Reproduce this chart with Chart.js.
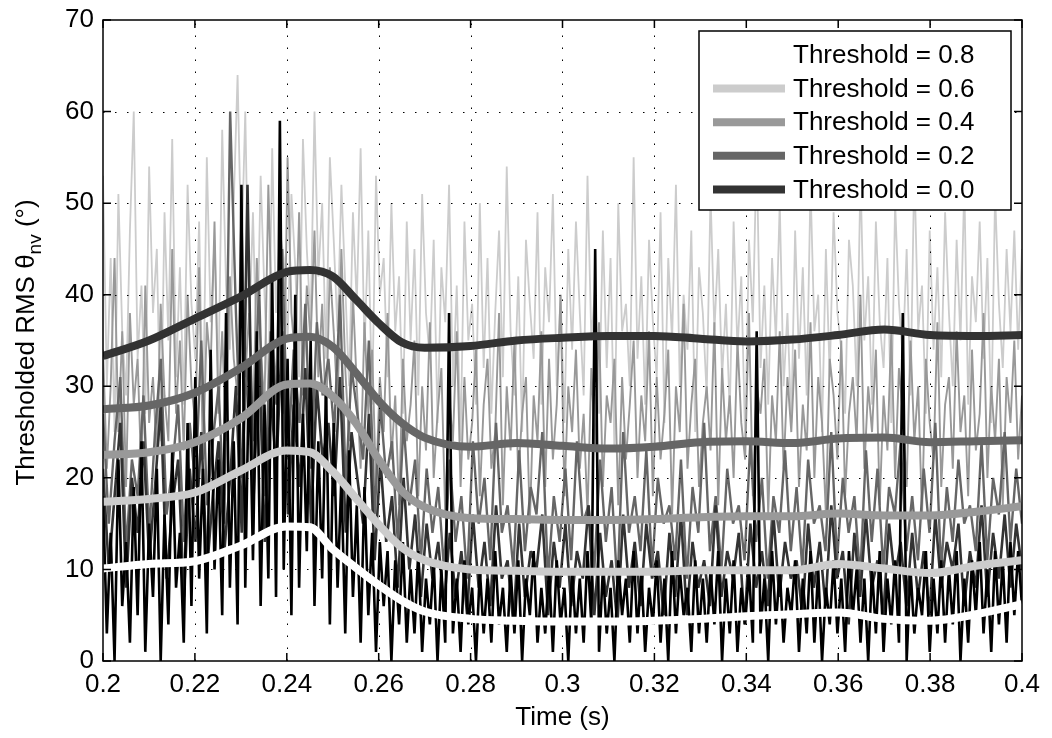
<!DOCTYPE html>
<html>
<head>
<meta charset="utf-8">
<script src="https://cdn.jsdelivr.net/npm/chart.js@4"></script>
<style>
  html, body { margin: 0; padding: 0; background: #fff; }
</style>
</head>
<body>
<canvas id="rmsChart" width="1052" height="738"></canvas>
<script>
// thresholds, as listed in the legend
const thresholds = ['0.8', '0.6', '0.4', '0.2', '0.0'];
const smoothColors = ['#ffffff', '#cccccc', '#999999', '#666666', '#333333'];
const rawColors = ['#000000', '#333333', '#666666', '#999999', '#cccccc'];

const xTicks = [0.2, 0.22, 0.24, 0.26, 0.28, 0.3, 0.32, 0.34, 0.36, 0.38, 0.4];
const yTicks = [0, 10, 20, 30, 40, 50, 60, 70];

// smoothed RMS curves
const smoothTimes = [0.200, 0.210, 0.220, 0.230, 0.240, 0.245, 0.250, 0.255, 0.260, 0.265, 0.270, 0.280,
  0.290, 0.300, 0.310, 0.320, 0.330, 0.340, 0.350, 0.360, 0.370, 0.380, 0.390, 0.400];
const smooth08 = [10.1, 10.6, 10.9, 12.6, 14.7, 14.6, 12.2, 10.2, 8.3, 6.6, 5.4, 4.6, 4.4, 4.3, 4.3, 4.4, 4.6, 4.9, 5.1, 5.3, 4.6, 4.4, 5.1, 6.2];
const smooth06 = [17.4, 17.7, 18.4, 20.8, 23.0, 22.8, 20.7, 17.8, 14.9, 12.4, 11.0, 10.0, 9.85, 9.75, 9.75, 9.75, 9.9, 9.9, 9.9, 10.6, 10.1, 9.6, 10.4, 11.0];
const smooth04 = [22.5, 22.8, 23.9, 26.5, 30.2, 30.3, 28.9, 26.0, 22.0, 18.6, 16.8, 15.6, 15.5, 15.4, 15.4, 15.5, 15.7, 15.8, 15.8, 16.1, 15.9, 15.9, 16.3, 16.9];
const smooth02 = [27.5, 27.9, 29.3, 32.0, 35.2, 35.4, 34.3, 31.5, 28.4, 26.0, 24.4, 23.4, 23.8, 23.5, 23.2, 23.4, 23.9, 24.0, 23.8, 24.3, 24.4, 23.9, 24.0, 24.1];
const smooth00 = [33.3, 35.0, 37.4, 39.8, 42.5, 42.7, 42.0, 39.5, 36.9, 34.8, 34.2, 34.4, 35.0, 35.3, 35.5, 35.5, 35.2, 34.9, 35.1, 35.6, 36.2, 35.6, 35.5, 35.6];

// raw thresholded signal, evenly sampled from 0.2 s to 0.4 s
const raw00 = [
  53, 30, 44, 25, 51, 36, 29, 47, 60, 33, 41, 27, 54, 38, 45, 24, 49, 35, 57, 31,
  43, 28, 52, 39, 33, 48, 26, 55, 37, 46, 30, 58, 41, 34, 50, 64, 44, 60, 36, 49,
  32, 53, 40, 29, 56, 38, 47, 44, 35, 51, 43, 31, 57, 45, 37, 60, 42, 50, 33, 55,
  46, 36, 52, 41, 30, 49, 39, 56, 34, 47, 28, 53, 40, 44, 31, 50, 36, 42, 27, 48,
  35, 45, 29, 51, 38, 33, 46, 26, 43, 37, 52, 30, 41, 24, 48, 35, 39, 28, 50, 32,
  44, 27, 38, 47, 31, 54, 36, 29, 42, 25, 46, 39, 33, 49, 28, 43, 37, 51, 30, 40,
  26, 45, 34, 48, 38, 29, 53, 35, 41, 27, 47, 32, 44, 23, 50, 36, 39, 30, 55, 33,
  42, 28, 46, 37, 31, 49, 26, 44, 35, 52, 30, 40, 34, 47, 25, 43, 38, 29, 51, 36,
  45, 31, 39, 27, 48, 34, 42, 24, 46, 37, 56, 32, 41, 28, 44, 35, 50, 30, 38, 26,
  47, 33, 43, 29, 52, 36, 40, 25, 45, 31, 49, 38, 34, 27, 46, 41, 30, 53, 35, 42,
  28, 48, 37, 32, 44, 26, 50, 39, 33, 45, 29, 54, 36, 41, 27, 47, 34, 43, 31, 49,
  38, 30, 46, 35, 52, 28, 42, 37, 48, 33, 44, 26, 51, 39, 32, 45, 36, 47, 34, 45];
const raw02 = [
  34, 21, 30, 44, 25, 36, 19, 38, 28, 33, 20, 41, 26, 31, 22, 39, 29, 24, 45, 27,
  35, 23, 40, 30, 26, 43, 22, 37, 32, 48, 27, 36, 24, 42, 33, 29, 50, 31, 38, 25,
  44, 34, 28, 52, 36, 30, 46, 27, 55, 38, 33, 49, 29, 41, 35, 47, 31, 39, 26, 43,
  36, 28, 45, 32, 24, 40, 30, 21, 37, 27, 34, 19, 31, 25, 38, 22, 29, 17, 33, 24,
  28, 35, 18, 30, 23, 37, 20, 27, 32, 16, 29, 24, 36, 19, 31, 22, 26, 34, 18, 28,
  33, 21, 25, 38, 17, 30, 23, 35, 20, 27, 31, 15, 29, 24, 36, 19, 33, 22, 28, 40,
  18, 30, 25, 34, 21, 27, 16, 32, 23, 37, 19, 29, 26, 33, 17, 31, 22, 28, 35, 20,
  29, 24, 36, 18, 31, 22, 27, 34, 16, 30, 25, 39, 21, 28, 33, 19, 26, 30, 23, 37,
  17, 32, 24, 29, 20, 35, 26, 22, 38, 18, 30, 27, 33, 16, 29, 24, 36, 21, 31, 25,
  34, 19, 28, 23, 37, 20, 31, 26, 16, 33, 29, 22, 35, 18, 27, 31, 24, 40, 21, 30,
  25, 34, 17, 29, 23, 36, 20, 32, 27, 19, 35, 24, 30, 16, 33, 26, 22, 37, 19, 28,
  31, 21, 36, 25, 29, 18, 34, 23, 27, 38, 20, 30, 24, 33, 17, 31, 26, 35, 22, 29];
const raw04 = [
  27, 15, 24, 31, 12, 22, 18, 29, 14, 25, 33, 16, 21, 28, 13, 26, 19, 35, 17, 24,
  30, 15, 60, 38, 20, 33, 24, 41, 18, 36, 28, 45, 22, 34, 26, 39, 21, 37, 29, 33,
  25, 40, 19, 32, 27, 22, 35, 16, 28, 20, 24, 13, 26, 17, 22, 11, 21, 14, 19, 10,
  22, 13, 18, 9, 24, 15, 20, 11, 26, 14, 17, 10, 23, 12, 19, 16, 25, 9, 18, 13,
  21, 11, 24, 15, 17, 10, 22, 13, 19, 8, 25, 14, 18, 12, 23, 10, 20, 15, 17, 11,
  22, 9, 19, 14, 26, 12, 18, 10, 21, 15, 17, 11, 24, 13, 20, 9, 18, 14, 23, 12,
  19, 10, 22, 15, 17, 12, 25, 11, 20, 14, 18, 9, 23, 13, 21, 10, 19, 16, 24, 12,
  18, 11, 21, 14, 26, 10, 19, 13, 22, 15, 17, 12, 24, 11, 20, 16, 25, 13, 21, 15];
const raw06 = [
  21, 10, 18, 26, 8, 20, 14, 24, 11, 19, 28, 9, 17, 22, 7, 21, 13, 25, 10, 18,
  24, 12, 20, 30, 14, 52, 17, 33, 13, 29, 21, 36, 16, 28, 19, 32, 15, 30, 22, 26,
  18, 31, 14, 25, 20, 15, 27, 11, 22, 13, 18, 8, 20, 10, 16, 7, 15, 9, 13, 6,
  14, 7, 12, 5, 16, 8, 13, 6, 17, 9, 11, 4, 15, 7, 12, 10, 16, 5, 13, 8,
  15, 6, 12, 9, 17, 5, 14, 7, 11, 4, 16, 8, 13, 6, 15, 9, 12, 5, 14, 7,
  16, 5, 13, 8, 11, 6, 17, 7, 12, 9, 14, 4, 15, 8, 12, 6, 16, 7, 13, 9,
  11, 5, 15, 8, 13, 6, 17, 9, 12, 4, 14, 7, 16, 8, 11, 5, 15, 9, 13, 6,
  14, 7, 12, 5, 16, 8, 13, 10, 15, 6, 12, 8, 17, 7, 14, 9, 16, 8, 15, 10];
const raw08 = [
  18, 3, 14, 0, 22, 6, 13, 2, 19, 5, 24, 1, 15, 7, 21, 0, 16, 4, 23, 8,
  14, 2, 26, 6, 31, 9, 21, 3, 34, 10, 22, 5, 38, 8, 24, 4, 52, 8, 33, 11,
  36, 6, 28, 9, 42, 7, 59, 10, 33, 5, 40, 8, 27, 12, 35, 6, 24, 9, 30, 4,
  26, 8, 20, 3, 23, 7, 17, 2, 19, 5, 14, 1, 13, 6, 12, 0, 11, 4, 13, 2,
  10, 3, 12, 1, 9, 4, 11, 0, 10, 2, 38, 3, 9, 1, 11, 4, 8, 0, 10, 3,
  9, 2, 12, 4, 8, 1, 10, 3, 11, 0, 9, 5, 12, 2, 8, 3, 10, 1, 11, 4,
  8, 0, 10, 3, 9, 2, 12, 4, 45, 1, 10, 3, 8, 0, 11, 5, 9, 2, 12, 3,
  10, 1, 8, 4, 11, 2, 9, 0, 12, 3, 10, 5, 8, 1, 11, 3, 9, 2, 10, 4,
  12, 0, 9, 3, 11, 1, 8, 4, 10, 2, 36, 3, 9, 0, 12, 4, 10, 2, 8, 5,
  11, 1, 9, 3, 12, 2, 10, 0, 8, 4, 11, 3, 9, 1, 12, 5, 10, 2, 9, 0,
  10, 3, 12, 1, 9, 4, 11, 2, 38, 0, 10, 3, 8, 5, 12, 1, 9, 3, 11, 2,
  10, 4, 12, 0, 9, 2, 11, 5, 13, 3, 10, 1, 12, 4, 11, 2, 13, 5, 12, 6];

const smoothSeries = [smooth08, smooth06, smooth04, smooth02, smooth00];
const rawSeries = [raw08, raw06, raw04, raw02, raw00];
const rawWidths = [2.6, 2.6, 2.4, 1.9, 1.8];

const FONT = '"Liberation Sans", Arial, Helvetica, sans-serif';

function rawPoints(values) {
  // samples are evenly spaced over the time window
  const n = values.length;
  return values.map((v, i) => ({ x: 0.2 + i * 0.2 / (n - 1), y: v }));
}

function smoothPoints(values) {
  return values.map((v, i) => ({ x: smoothTimes[i], y: v }));
}

const datasets = [];
// thick smoothed curves first so they sit on top
smoothSeries.forEach((vals, k) => {
  datasets.push({
    label: 'Threshold = ' + thresholds[k],
    data: smoothPoints(vals),
    borderColor: smoothColors[k],
    borderWidth: 8,
    pointRadius: 0,
    cubicInterpolationMode: 'monotone',
    order: 1 + k,
    isSmooth: true
  });
});
// raw traces: threshold 0.0 (light) at the bottom, 0.8 (black) above them
rawSeries.forEach((vals, k) => {
  datasets.push({
    label: 'raw ' + thresholds[k],
    data: rawPoints(vals),
    borderColor: rawColors[k],
    borderWidth: rawWidths[k],
    borderJoinStyle: 'bevel',
    pointRadius: 0,
    tension: 0,
    order: 6 + k,
    gridAfter: k === 0
  });
});

const matlabAxes = {
  id: 'matlabAxes',
  afterDatasetDraw(chart, args) {
    if (!chart.data.datasets[args.index].gridAfter) return;
    const { ctx, chartArea: a, scales: { x, y } } = chart;
    ctx.save();
    ctx.strokeStyle = '#000';
    ctx.lineWidth = 1;
    ctx.setLineDash([1.5, 10.5]);
    xTicks.slice(1, -1).forEach(t => {
      const px = Math.round(x.getPixelForValue(t)) + 0.5;
      ctx.beginPath(); ctx.moveTo(px, a.bottom); ctx.lineTo(px, a.top); ctx.stroke();
    });
    yTicks.slice(1, -1).forEach(t => {
      const py = Math.round(y.getPixelForValue(t)) + 0.5;
      ctx.beginPath(); ctx.moveTo(a.left, py); ctx.lineTo(a.right, py); ctx.stroke();
    });
    ctx.restore();
  },
  afterDraw(chart) {
    const { ctx, chartArea: a, scales: { x, y } } = chart;
    ctx.save();
    // box and inward ticks
    ctx.strokeStyle = '#000';
    ctx.lineWidth = 1.5;
    ctx.strokeRect(a.left, a.top, a.right - a.left, a.bottom - a.top);
    const tl = 8;
    ctx.beginPath();
    xTicks.forEach(t => {
      const px = x.getPixelForValue(t);
      ctx.moveTo(px, a.bottom); ctx.lineTo(px, a.bottom - tl);
      ctx.moveTo(px, a.top); ctx.lineTo(px, a.top + tl);
    });
    yTicks.forEach(t => {
      const py = y.getPixelForValue(t);
      ctx.moveTo(a.left, py); ctx.lineTo(a.left + tl, py);
      ctx.moveTo(a.right, py); ctx.lineTo(a.right - tl, py);
    });
    ctx.stroke();

    // legend
    const lx = a.right - 323, ly = a.top + 11, lw = 312, lh = 179;
    ctx.fillStyle = '#fff';
    ctx.fillRect(lx, ly, lw, lh);
    ctx.lineWidth = 1.5;
    ctx.strokeRect(lx, ly, lw, lh);
    ctx.font = '26px ' + FONT;
    ctx.textAlign = 'left';
    ctx.textBaseline = 'middle';
    chart.data.datasets.filter(d => d.isSmooth).forEach((d, i) => {
      const ry = ly + 24 + i * 33.6;
      ctx.strokeStyle = d.borderColor;
      ctx.lineWidth = 8;
      ctx.beginPath(); ctx.moveTo(lx + 14, ry); ctx.lineTo(lx + 86, ry); ctx.stroke();
      ctx.fillStyle = '#000';
      ctx.fillText(d.label, lx + 94, ry + 1);
    });

    // axis titles
    ctx.fillStyle = '#000';
    ctx.textAlign = 'center';
    ctx.fillText('Time (s)', (a.left + a.right) / 2, 718);

    const main = 'Thresholded RMS \u03b8', sub = 'nv', tail = ' (\u00b0)';
    ctx.font = '26px ' + FONT;
    const w1 = ctx.measureText(main).width;
    const w3 = ctx.measureText(tail).width;
    ctx.font = '19px ' + FONT;
    const w2 = ctx.measureText(sub).width;
    ctx.translate(34, (a.top + a.bottom) / 2 + 2);
    ctx.rotate(-Math.PI / 2);
    ctx.textAlign = 'left';
    ctx.textBaseline = 'alphabetic';
    let sx = -(w1 + w2 + w3) / 2;
    ctx.font = '26px ' + FONT;
    ctx.fillText(main, sx, 0);
    sx += w1;
    ctx.font = '19px ' + FONT;
    ctx.fillText(sub, sx, 7);
    sx += w2;
    ctx.font = '26px ' + FONT;
    ctx.fillText(tail, sx, 0);
    ctx.restore();
  }
};

Chart.defaults.font.family = FONT;
Chart.defaults.font.size = 26;
Chart.defaults.color = '#000';

new Chart(document.getElementById('rmsChart'), {
  type: 'line',
  data: { datasets: datasets },
  options: {
    responsive: false,
    animation: false,
    layout: { padding: { top: 20, right: 30, left: 0, bottom: 0 } },
    plugins: { legend: { display: false }, tooltip: { enabled: false } },
    scales: {
      x: {
        type: 'linear',
        min: 0.2,
        max: 0.4,
        grid: { display: false, drawTicks: false },
        border: { display: false },
        afterBuildTicks: s => { s.ticks = xTicks.map(v => ({ value: v })); },
        afterFit: s => { s.height = 77; s.paddingLeft = 0; s.paddingRight = 0; },
        ticks: {
          padding: 8,
          maxRotation: 0,
          autoSkip: false,
          callback: v => String(v)
        }
      },
      y: {
        min: 0,
        max: 70,
        grid: { display: false, drawTicks: false },
        border: { display: false },
        afterBuildTicks: s => { s.ticks = yTicks.map(v => ({ value: v })); },
        afterFit: s => { s.width = 103; s.paddingTop = 0; s.paddingBottom = 0; },
        ticks: { padding: 9, autoSkip: false }
      }
    }
  },
  plugins: [matlabAxes]
});
</script>
</body>
</html>
